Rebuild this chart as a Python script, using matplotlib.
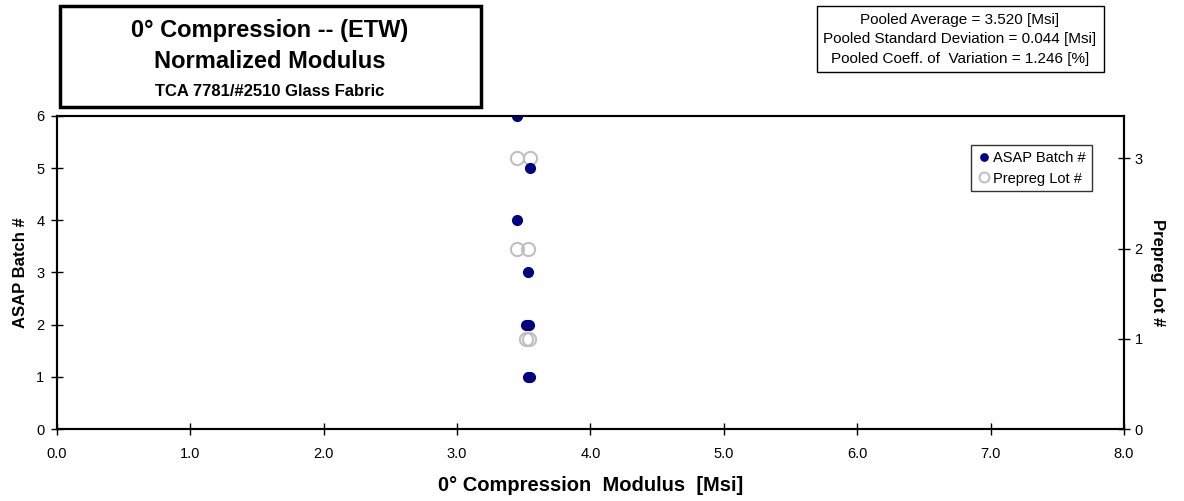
import matplotlib
matplotlib.use("Agg")
import matplotlib.pyplot as plt
from matplotlib.patches import Rectangle

plt.rcParams['font.family'] = ['Liberation Sans', 'DejaVu Sans']

# Data
batch_modulus = [3.45, 3.55, 3.45, 3.535, 3.52, 3.54, 3.53, 3.55]
batch_id = [6, 5, 4, 3, 2, 2, 1, 1]
lot_modulus = [3.45, 3.55, 3.45, 3.535, 3.52, 3.54]
lot_id = [3, 3, 2, 2, 1, 1]
x_ticks = [0.0, 1.0, 2.0, 3.0, 4.0, 5.0, 6.0, 7.0, 8.0]
left_ticks = [0, 1, 2, 3, 4, 5, 6]
right_ticks = [0, 1, 2, 3]
stats_lines = ["Pooled Average = 3.520 [Msi]",
               "Pooled Standard Deviation = 0.044 [Msi]",
               "Pooled Coeff. of  Variation = 1.246 [%]"]

fig = plt.figure(figsize=(11.84, 5.01), dpi=100)
ax = fig.add_axes([0.0481, 0.1437, 0.9012, 0.6248])
ax2 = ax.twinx()

ax.set_xlim(0, 8)
ax.set_ylim(0, 6)
ax2.set_ylim(0, 3.47)

l2 = ax2.plot(lot_modulus, lot_id, linestyle='none', marker='o', markersize=9.5,
              markerfacecolor='none', markeredgecolor='#c0c0c0', markeredgewidth=1.5,
              label='Prepreg Lot #')
l1 = ax.plot(batch_modulus, batch_id, linestyle='none', marker='o', markersize=7,
             markerfacecolor='#000080', markeredgecolor='#000080', label='ASAP Batch #')
ax.set_zorder(ax2.get_zorder() + 1)
ax.patch.set_visible(False)

ax.set_xticks(x_ticks)
ax.set_xticklabels([f"{v:.1f}" for v in x_ticks])
ax.set_yticks(left_ticks)
ax2.set_yticks(right_ticks)
for a in (ax, ax2):
    a.tick_params(direction='inout', length=8, width=1, labelsize=10.5, color='black')
    for s in a.spines.values():
        s.set_linewidth(1.5)
ax.tick_params(axis='x', pad=9)
ax.tick_params(axis='y', pad=5)

ax.set_xlabel("0° Compression  Modulus  [Msi]", fontsize=14.5, fontweight='bold', labelpad=11)
ax.set_ylabel("ASAP Batch #", fontsize=12, fontweight='bold', labelpad=6)
ax2.set_ylabel("Prepreg Lot #", fontsize=12, fontweight='bold', rotation=-90, labelpad=16)

leg = ax.legend(handles=[l1[0], l2[0]], loc='upper right', bbox_to_anchor=(0.9765, 0.93),
                fontsize=10.5, frameon=True, fancybox=False, handletextpad=0.1,
                handlelength=1.0, borderpad=0.4, labelspacing=0.45, markerscale=0.75)
leg.get_frame().set_edgecolor('black')
leg.get_frame().set_linewidth(1.0)

# Title box
fig.patches.append(Rectangle((60/1184, 1 - 107/501), (481-60)/1184, (107-6)/501,
                             transform=fig.transFigure, fill=False, edgecolor='black',
                             linewidth=2.5))
fig.text(270/1184, 1 - 30/501, "0° Compression -- (ETW)", ha='center', va='center',
         fontsize=17, fontweight='bold')
fig.text(270/1184, 1 - 62/501, "Normalized Modulus", ha='center', va='center',
         fontsize=17, fontweight='bold')
fig.text(270/1184, 1 - 91/501, "TCA 7781/#2510 Glass Fabric", ha='center', va='center',
         fontsize=12, fontweight='bold')

# Stats box
fig.patches.append(Rectangle((817/1184, 1 - 72/501), (1104-817)/1184, (72-6)/501,
                             transform=fig.transFigure, fill=False, edgecolor='black',
                             linewidth=1.0))
for i, line in enumerate(stats_lines):
    fig.text(960/1184, 1 - (20 + i * 19.5)/501, line, ha='center', va='center', fontsize=11)

fig.savefig("out.png", dpi=100)
